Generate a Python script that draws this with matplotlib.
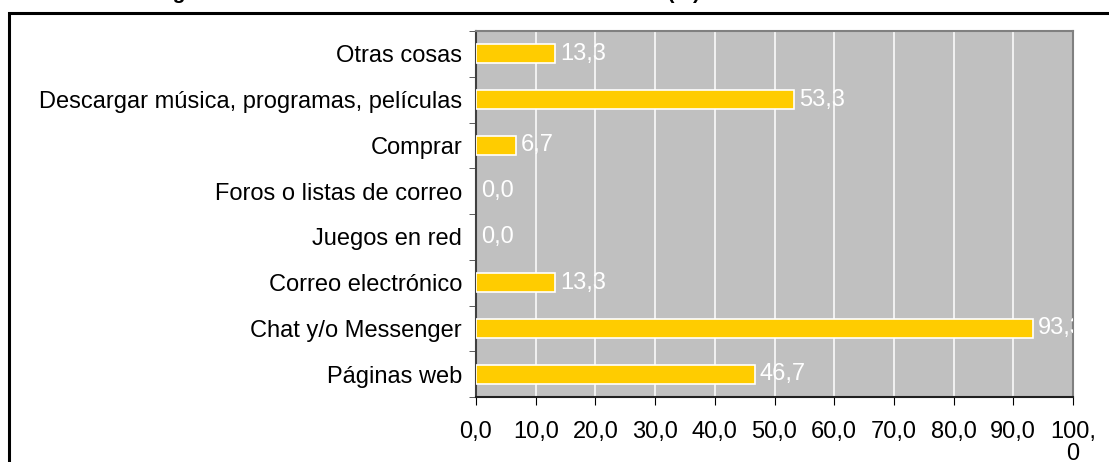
import numpy as np
import matplotlib.pyplot as plt
from matplotlib.patches import Rectangle

plt.rcParams['font.family'] = ['Liberation Sans', 'DejaVu Sans']

# categories from bottom to top
categories = ['Páginas web', 'Chat y/o Messenger', 'Correo electrónico', 'Juegos en red',
              'Foros o listas de correo', 'Comprar', 'Descargar música, programas, películas',
              'Otras cosas']
values = [46.7, 93.3, 13.3, 0.0, 0.0, 6.7, 53.3, 13.3]
xticks = [0, 10, 20, 30, 40, 50, 60, 70, 80, 90, 100]
xtick_labels = ['0,0', '10,0', '20,0', '30,0', '40,0', '50,0', '60,0', '70,0', '80,0', '90,0', '100,\n0']
title = 'Figura 5. Uso de Internet en los centros educativos (%)'

fig = plt.figure(figsize=(11.09, 4.62), dpi=100)

# outer frame of the chart (partly cut off on the right and bottom)
fig.patches.append(Rectangle((9/1109, -0.1), 1.2, 1 - 13/462 + 0.1, transform=fig.transFigure,
                             fill=False, edgecolor='black', linewidth=2.2, clip_on=False))

# title, mostly cut off at the top of the picture
fig.text(700/1109, 1 + 1/462, title, fontsize=15, fontweight='bold', va='baseline', ha='right')

ax = fig.add_axes([476/1109, 1 - 397/462, (1073 - 476)/1109, (397 - 31)/462])
ax.set_facecolor('#C0C0C0')

y = np.arange(len(categories))
# no white outline on empty bars
lws = [1.2 if v > 0 else 0 for v in values]
ax.barh(y, values, height=0.42, color='#FFCC00', edgecolor='white', linewidth=lws, zorder=3)

for yi, v in zip(y, values):
    ax.text(v + 0.8, yi, f'{v:.1f}'.replace('.', ','), color='white', fontsize=17,
            va='center', ha='left', clip_on=True, zorder=4)

ax.set_xlim(0, 100)
ax.set_ylim(-0.5, len(categories) - 0.5)
ax.set_xticks(xticks)
ax.set_xticklabels(xtick_labels, fontsize=17, linespacing=1.0)
ax.set_yticks(y)
ax.set_yticklabels(categories, fontsize=17)
ax.set_yticks(np.arange(len(categories) + 1) - 0.5, minor=True)
ax.tick_params(axis='y', which='major', length=0, pad=10)
ax.tick_params(axis='y', which='minor', length=5, direction='out', color='#404040')
ax.tick_params(axis='x', length=6, direction='out', pad=11, color='black')

ax.grid(axis='x', color='white', linewidth=1.1, zorder=1)
ax.set_axisbelow(True)

ax.spines['left'].set_color('#404040')
ax.spines['bottom'].set_color('#202020')
ax.spines['top'].set_color('#808080')
ax.spines['right'].set_color('#808080')
for s in ax.spines.values():
    s.set_linewidth(1.5)

fig.savefig('out.png', dpi=100)
